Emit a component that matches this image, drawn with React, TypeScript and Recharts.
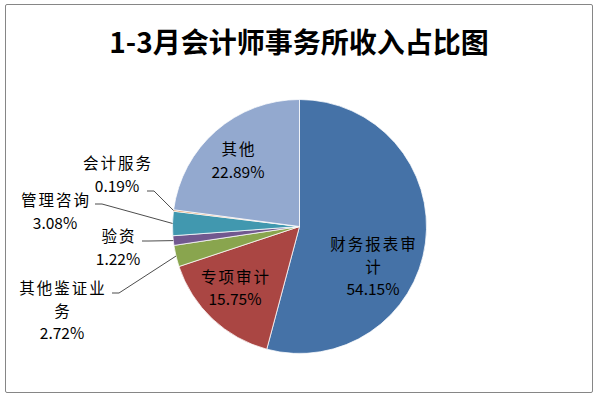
import React from 'react';
import { PieChart, Pie, Cell } from 'recharts';

// Revenue share, Jan-Mar (percent)
const categories = ['财务报表审计', '专项审计', '其他鉴证业务', '验资', '管理咨询', '会计服务', '其他'];
const shares = [54.15, 15.75, 2.72, 1.22, 3.08, 0.19, 22.89];
const COLORS = ['#4572A7', '#AA4643', '#89A54E', '#71588F', '#4198AF', '#DB843D', '#93A9CF'];

const data = categories.map((name, i) => ({ name, value: shares[i] }));

const CX = 299.5;
const CY = 226.5;
const R = 127;
const LINE_H = 22.5;
const NAME_SPACING = 2;
const RADIAN = Math.PI / 180;

// label placement relative to the pie centre (Excel "best fit" layout), plus leader line start for outside labels
const LABEL_LAYOUT: { dx: number; dy: number; wrap: number; lead?: [number, number] }[] = [
  { dx: 73.5, dy: 16.5, wrap: 5 },
  { dx: -64.5, dy: 49, wrap: 5 },
  { dx: -237.5, dy: 60.5, wrap: 5, lead: [112, 293] },
  { dx: -181.5, dy: 8.5, wrap: 5, lead: [142, 241] },
  { dx: -244.5, dy: -27.5, wrap: 5, lead: [95, 204] },
  { dx: -182.5, dy: -64.5, wrap: 5, lead: [147, 191] },
  { dx: -61.5, dy: -78.5, wrap: 5 },
];

const wrapText = (s: string, n: number) => {
  const out: string[] = [];
  for (let i = 0; i < s.length; i += n) out.push(s.slice(i, i + n));
  return out;
};

const renderLabel = (props: any) => {
  const { cx, cy, midAngle, outerRadius, index, name, value } = props;
  const lay = LABEL_LAYOUT[index];
  const nameLines = wrapText(name, lay.wrap);
  const lines = [...nameLines, `${value.toFixed(2)}%`];
  const x = cx + lay.dx;
  const y0 = cy + lay.dy;
  let leader = null;
  if (lay.lead) {
    const ex = cx + outerRadius * Math.cos(-midAngle * RADIAN);
    const ey = cy + outerRadius * Math.sin(-midAngle * RADIAN);
    const [sx, sy] = lay.lead;
    leader = (
      <polyline
        points={`${sx},${sy} ${sx + 7},${sy} ${ex},${ey}`}
        fill="none"
        stroke="#4d4d4d"
        strokeWidth={1}
      />
    );
  }
  return (
    <g key={`lbl-${index}`}>
      {leader}
      {lines.map((t, i) => {
        const isName = i < nameLines.length;
        return (
          <text
            key={i}
            x={isName ? x + NAME_SPACING / 2 : x}
            y={y0 + i * LINE_H}
            textAnchor="middle"
            dominantBaseline="central"
            fill="#000"
            fontSize={15.5}
            letterSpacing={isName ? NAME_SPACING : 0}
            fontFamily="'Noto Sans CJK SC', 'Noto Sans', sans-serif"
          >
            {t}
          </text>
        );
      })}
    </g>
  );
};

export default function App() {
  return (
    <div style={{ position: 'absolute', left: 0, top: 0, width: 598, height: 397, background: '#fff' }}>
      <div
        style={{
          position: 'absolute',
          left: 5,
          top: 4,
          width: 586,
          height: 387,
          border: '1.5px solid #868686',
          borderRadius: 2,
        }}
      />
      <div
        style={{
          position: 'absolute',
          left: 0,
          top: 22,
          width: 598,
          textAlign: 'center',
          fontFamily: "'Noto Sans CJK SC', sans-serif",
          fontWeight: 700,
          fontSize: 28,
          lineHeight: '38px',
          color: '#000',
        }}
      >
        1-3月会计师事务所收入占比图
      </div>
      <div style={{ position: 'absolute', left: 0, top: 0 }}>
        <PieChart width={598} height={397} margin={{ top: 0, right: 0, bottom: 0, left: 0 }}>
          <Pie
            data={data}
            dataKey="value"
            nameKey="name"
            cx={CX}
            cy={CY}
            outerRadius={R}
            startAngle={90}
            endAngle={-270}
            stroke="#ffffff"
            strokeWidth={0.75}
            label={renderLabel}
            labelLine={false}
            isAnimationActive={false}
          >
            {data.map((d, i) => (
              <Cell key={d.name} fill={COLORS[i]} />
            ))}
          </Pie>
        </PieChart>
      </div>
    </div>
  );
}
